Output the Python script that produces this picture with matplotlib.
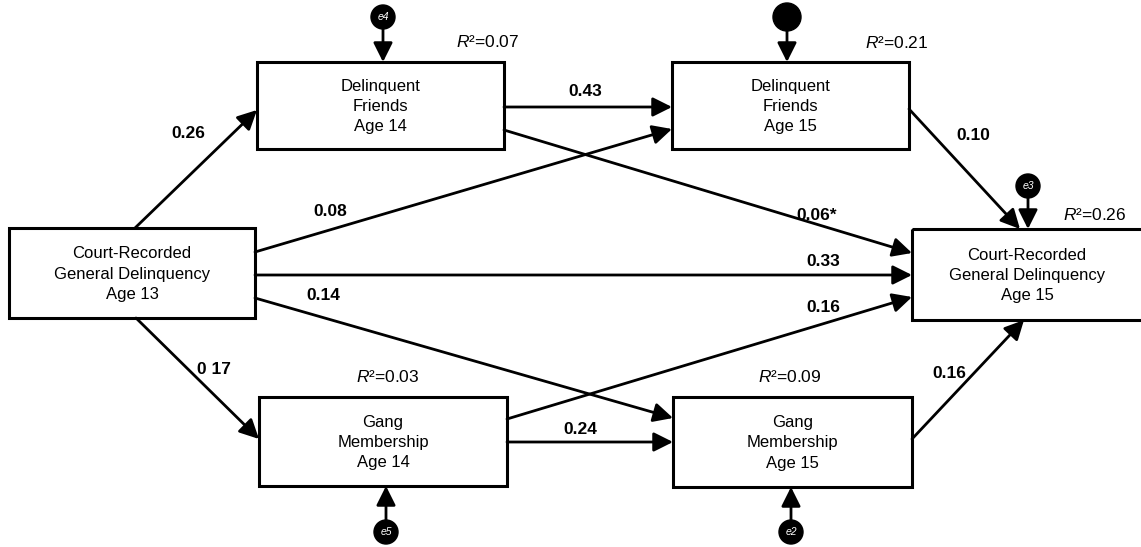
"""Path diagram: delinquent friends, gang membership and court-recorded delinquency."""

import matplotlib.pyplot as plt
from matplotlib.patches import Circle, Rectangle

plt.rcParams["font.family"] = ["Liberation Sans", "DejaVu Sans"]
plt.rcParams["mathtext.fontset"] = "custom"
plt.rcParams["mathtext.rm"] = "Liberation Sans"
plt.rcParams["mathtext.it"] = "Liberation Sans:italic"

# --- data -------------------------------------------------------------
BOX_NAMES = ["crt13", "df14", "df15", "gang14", "gang15", "crt15"]
BOX_LABELS = [
    "Court-Recorded\nGeneral Delinquency\nAge 13",
    "Delinquent\nFriends\nAge 14",
    "Delinquent\nFriends\nAge 15",
    "Gang\nMembership\nAge 14",
    "Gang\nMembership\nAge 15",
    "Court-Recorded\nGeneral Delinquency\nAge 15",
]
R_SQUARED = [None, "0.07", "0.21", "0.03", "0.09", "0.26"]
ERROR_LABELS = [None, "e4", "", "e5", "e2", "e3"]

PATH_FROM = ["crt13", "crt13", "crt13", "crt13", "crt13", "df14", "df14", "df15", "gang14", "gang14", "gang15"]
PATH_TO = ["df14", "gang14", "df15", "crt15", "gang15", "df15", "crt15", "crt15", "crt15", "gang15", "crt15"]
PATH_COEF = ["0.26", "0 17", "0.08", "0.33", "0.14", "0.43", "0.06*", "0.10", "0.16", "0.24", "0.16"]

# --- layout (pixel coordinates, y down) -------------------------------
BOX_RECTS = {
    "crt13": (9, 228, 255, 318),
    "df14": (257, 62, 504, 149),
    "df15": (672, 62, 909, 149),
    "gang14": (259, 397, 507, 486),
    "gang15": (673, 397, 912, 487),
    "crt15": (912, 229, 1150, 320),
}
PATH_POINTS = [
    ((135, 228), (257, 110)),
    ((136, 318), (259, 439)),
    ((255, 252), (672, 129)),
    ((255, 275), (912, 275)),
    ((255, 298), (673, 418)),
    ((504, 107), (672, 107)),
    ((504, 130), (912, 253)),
    ((909, 109), (1020, 229)),
    ((507, 419), (912, 297)),
    ((507, 442), (673, 442)),
    ((912, 439), (1024, 320)),
]
COEF_POS = [
    (188, 133), (214, 370), (330, 211), (823, 262), (323, 296), (585, 92),
    (817, 215), (973, 135), (823, 307), (580, 429), (949, 373),
]
R2_POS = {"df14": (488, 42), "df15": (897, 43), "gang14": (388, 377),
          "gang15": (790, 377), "crt15": (1095, 215)}
ERROR_POS = {"df14": (383, 17, 12), "df15": (787, 17, 14), "gang14": (386, 532, 12),
             "gang15": (791, 532, 12), "crt15": (1028, 186, 12)}

fig = plt.figure(figsize=(11.41, 5.47), dpi=100)
ax = fig.add_axes([0, 0, 1, 1])
ax.set_xlim(0, 1141)
ax.set_ylim(547, 0)
ax.axis("off")

arrow_kw = dict(arrowstyle="-|>,head_length=0.9,head_width=0.45", color="black",
                lw=2.0, shrinkA=0, shrinkB=0, mutation_scale=13)

for name, label in zip(BOX_NAMES, BOX_LABELS):
    x0, y0, x1, y1 = BOX_RECTS[name]
    ax.add_patch(Rectangle((x0, y0), x1 - x0, y1 - y0, fill=False, ec="black", lw=2.2, zorder=3))
    cx = (x0 + x1) / 2 if name != "crt15" else 1027
    ax.text(cx, (y0 + y1) / 2 + 1, label, ha="center", va="center", fontsize=12,
            linespacing=1.45, zorder=4)

for src, dst, coef, (p0, p1), pos in zip(PATH_FROM, PATH_TO, PATH_COEF, PATH_POINTS, COEF_POS):
    ax.annotate("", xy=p1, xytext=p0, arrowprops=arrow_kw, zorder=2)
    ax.text(pos[0], pos[1], coef, ha="center", va="center", fontsize=12.5, fontweight="semibold")

for name, r2 in zip(BOX_NAMES, R_SQUARED):
    if r2 is None:
        continue
    x, y = R2_POS[name]
    ax.text(x, y, r"$\mathit{R}$²=" + r2, ha="center", va="center", fontsize=12.5)

for name, err in zip(BOX_NAMES, ERROR_LABELS):
    if err is None:
        continue
    cx, cy, r = ERROR_POS[name]
    x0, y0, x1, y1 = BOX_RECTS[name]
    ax.add_patch(Circle((cx, cy), r, color="black", zorder=5))
    ax.text(cx, cy, err, ha="center", va="center", fontsize=7.5, style="italic",
            color="white", zorder=6)
    if cy < y0:
        ax.annotate("", xy=(cx, y0), xytext=(cx, cy + r), arrowprops=arrow_kw, zorder=2)
    else:
        ax.annotate("", xy=(cx, y1), xytext=(cx, cy - r), arrowprops=arrow_kw, zorder=2)

fig.savefig("out.png", dpi=100)
